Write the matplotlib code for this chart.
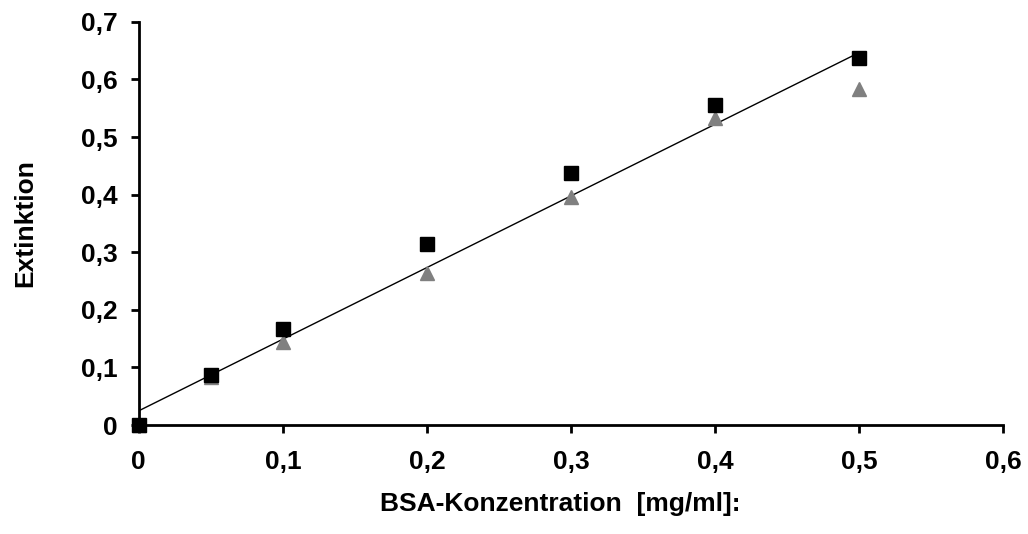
import matplotlib as mpl
mpl.use('Agg')
from matplotlib import pyplot as plt
from matplotlib.ticker import FuncFormatter
import numpy as np

plt.rcParams['font.family'] = ['Liberation Sans', 'DejaVu Sans']
plt.rcParams['font.weight'] = 'bold'

# BSA concentration [mg/ml]
conc = [0, 0.05, 0.1, 0.2, 0.3, 0.4, 0.5]
# measured extinction, two series
ext_a = [0, 0.087, 0.167, 0.315, 0.437, 0.556, 0.638]
ext_b = [0, 0.083, 0.144, 0.264, 0.396, 0.533, 0.583]

xticks = [0, 0.1, 0.2, 0.3, 0.4, 0.5, 0.6]
yticks = [0, 0.1, 0.2, 0.3, 0.4, 0.5, 0.6, 0.7]

# linear regression through both series
xall = np.array(conc + conc)
yall = np.array(ext_a + ext_b)
slope, icpt = np.polyfit(xall, yall, 1)
xfit = np.array([min(conc), max(conc)])

fig = plt.figure(figsize=(10.28, 5.34), dpi=100)
ax = fig.add_axes([0.135, 0.204, 0.841, 0.755])

ax.plot(xfit, slope*xfit + icpt, '-k', linewidth=1, zorder=1)
ax.plot(conc, ext_b, linestyle='none', marker='^', color='#808080',
        markersize=10, clip_on=False, zorder=2)
ax.plot(conc, ext_a, linestyle='none', marker='s', color='black',
        markersize=9.5, clip_on=False, zorder=3)

ax.set_xlim(0, 0.6)
ax.set_ylim(0, 0.7)
ax.set_xticks(xticks)
ax.set_yticks(yticks)

fmt = FuncFormatter(lambda v, p: '0' if abs(v) < 1e-9 else ('%.1f' % v).replace('.', ','))
ax.xaxis.set_major_formatter(fmt)
ax.yaxis.set_major_formatter(fmt)

for s in ['top', 'right']:
    ax.spines[s].set_visible(False)
for s in ['left', 'bottom']:
    ax.spines[s].set_linewidth(2)

ax.tick_params(axis='both', direction='out', length=6, width=2, labelsize=19)
ax.tick_params(axis='x', pad=12)
ax.tick_params(axis='y', pad=9)

ax.set_xlabel('BSA-Konzentration  [mg/ml]:', fontsize=19, fontweight='bold', labelpad=13)
ax.xaxis.label.set_x(0.488)
ax.set_ylabel('Extinktion', fontsize=19, fontweight='bold', labelpad=32)

plt.savefig('out.png', dpi=100)
plt.close()
